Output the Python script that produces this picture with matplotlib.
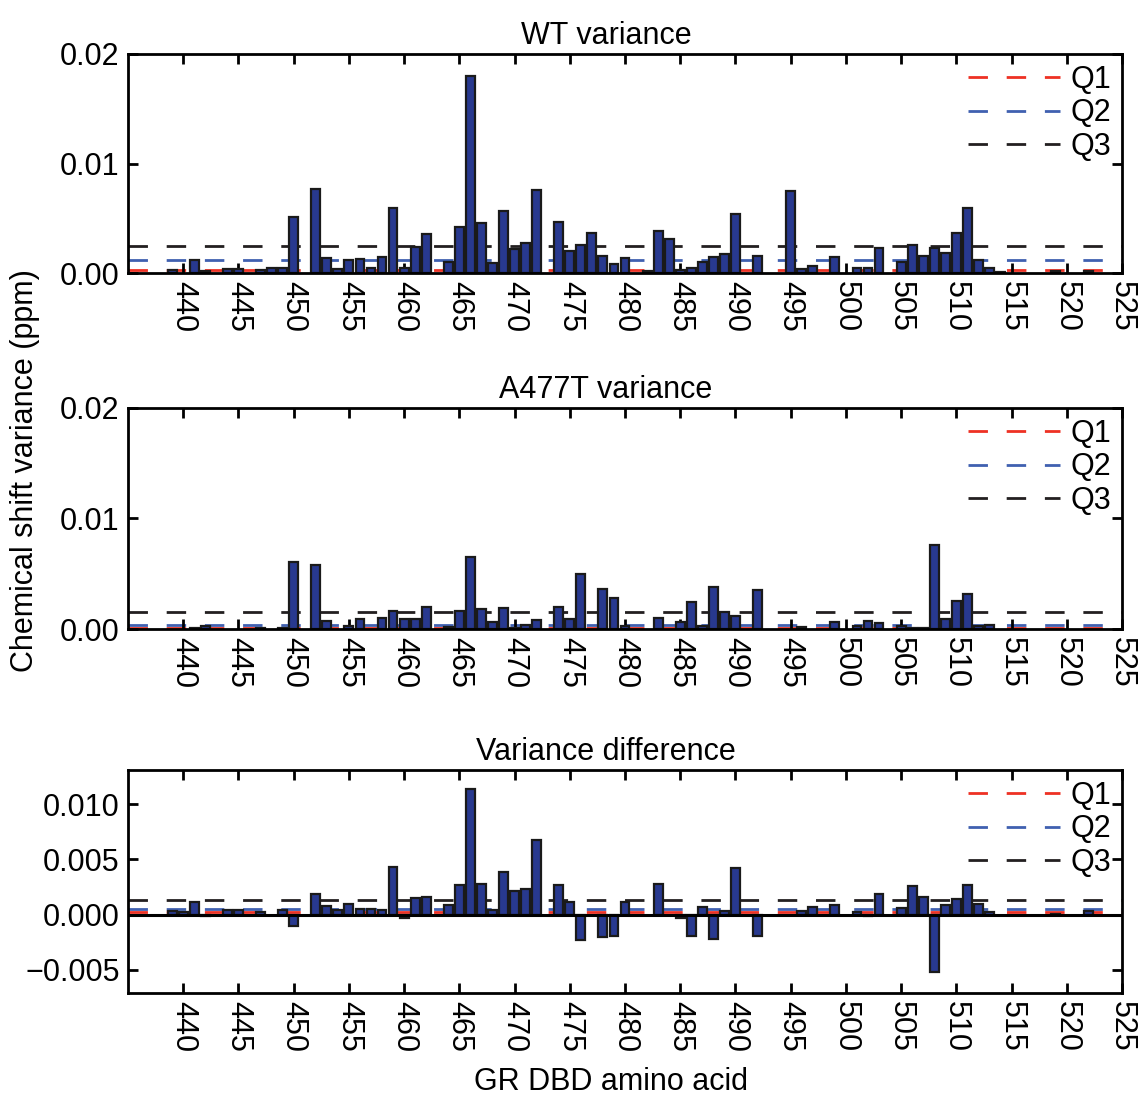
import matplotlib
matplotlib.use('Agg')
import matplotlib.pyplot as plt

plt.rcParams['font.family'] = ['Liberation Sans', 'DejaVu Sans']
plt.rcParams['lines.scale_dashes'] = False

# WT chemical shift variance per residue
wt_res = [439, 441, 442, 444, 445, 447, 448, 449, 450, 452, 453, 454, 455, 456, 457,
          458, 459, 460, 461, 462, 464, 465, 466, 467, 468, 469, 470, 471, 472, 474,
          475, 476, 477, 478, 479, 480, 482, 483, 484, 485, 486, 487, 488, 489, 490,
          492, 495, 496, 497, 499, 501, 502, 503, 505, 506, 507, 508, 509, 510, 511,
          512, 513, 514, 519, 522]
wt_var = [0.0003, 0.0012, 0.0002, 0.0004, 0.0004, 0.0003, 0.0005, 0.0005, 0.0051, 0.0077,
          0.0014, 0.0004, 0.0012, 0.0013, 0.0005, 0.0015, 0.0059, 0.0005, 0.0024, 0.0036,
          0.0010, 0.0042, 0.0180, 0.0046, 0.0009, 0.0057, 0.0022, 0.0027, 0.0076, 0.0047,
          0.0020, 0.0026, 0.0037, 0.0016, 0.0008, 0.0014, 0.0002, 0.0038, 0.0031, 0.0003,
          0.0005, 0.0010, 0.0015, 0.0017, 0.0054, 0.0016, 0.0075, 0.0004, 0.0006, 0.0015,
          0.0005, 0.0005, 0.0023, 0.0010, 0.0026, 0.0016, 0.0023, 0.0018, 0.0037, 0.0059,
          0.0012, 0.0005, 0.0001, 0.0002, 0.0002]

# A477T chemical shift variance per residue
mut_res = [441, 442, 447, 449, 450, 452, 453, 455, 456, 458, 459, 460, 461, 462, 464,
           465, 466, 467, 468, 469, 470, 471, 472, 474, 475, 476, 478, 479, 480, 483,
           485, 486, 487, 488, 489, 490, 492, 496, 499, 501, 502, 503, 505, 506, 507,
           508, 509, 510, 511, 512, 513]
mut_var = [0.0001, 0.0003, 0.0001, 0.0001, 0.0061, 0.0058, 0.0007, 0.0003, 0.0009, 0.0010,
           0.0016, 0.0009, 0.0009, 0.0020, 0.0002, 0.0016, 0.0065, 0.0018, 0.0006, 0.0019,
           0.0001, 0.0004, 0.0008, 0.0020, 0.0009, 0.0050, 0.0036, 0.0028, 0.0003, 0.0010,
           0.0006, 0.0024, 0.0003, 0.0038, 0.0015, 0.0012, 0.0035, 0.0002, 0.0006, 0.0003,
           0.0007, 0.0005, 0.0003, 0.0001, 0.0001, 0.0076, 0.0009, 0.0025, 0.0032, 0.0003,
           0.0004]

# variance difference per residue
diff_res = [439, 440, 441, 442, 444, 445, 447, 449, 450, 452, 453, 454, 455, 456, 457,
            458, 459, 460, 461, 462, 464, 465, 466, 467, 468, 469, 470, 471, 472, 474,
            475, 476, 478, 479, 480, 483, 485, 486, 487, 488, 489, 490, 492, 496, 497,
            499, 501, 502, 503, 505, 506, 507, 508, 509, 510, 511, 512, 513, 519, 522]
diff_var = [0.0003, 0.0002, 0.0011, -0.0001, 0.0004, 0.0004, 0.0002, 0.00045, -0.0010, 0.0019,
            0.00075, 0.00045, 0.0010, 0.0005, 0.0005, 0.00045, 0.0043, -0.00035, 0.0015, 0.0016,
            0.00085, 0.0027, 0.0114, 0.0028, 0.0004, 0.0039, 0.0021, 0.0023, 0.0068, 0.0027,
            0.0011, -0.0023, -0.0020, -0.0019, 0.0011, 0.0028, -0.00035, -0.0019, 0.0007, -0.0022,
            0.0003, 0.0042, -0.0019, 0.0003, 0.0007, 0.0009, 0.00025, -0.0001, 0.0019, 0.0006,
            0.0026, 0.0016, -0.0052, 0.0009, 0.0014, 0.0027, 0.0010, 0.0002, 0.0001, 0.0003]

# quartiles (Q1, Q2, Q3) for each panel
wt_q = [0.00025, 0.0012, 0.0025]
mut_q = [0.0001, 0.00037, 0.0015]
diff_q = [0.00024, 0.00048, 0.00135]

q_labels = ['Q1', 'Q2', 'Q3']
q_colors = ['#EE3124', '#4060B0', '#231F20']
bar_color = '#28398F'

xticks = [440, 445, 450, 455, 460, 465, 470, 475, 480, 485, 490, 495, 500, 505,
          510, 515, 520, 525]

fs = 22

fig = plt.figure(figsize=(11.4, 10.97), dpi=100)
left, width = 0.1123, 0.8719
ax1 = fig.add_axes([left, 0.7511, width, 0.1997])
ax2 = fig.add_axes([left, 0.4266, width, 0.2015])
ax3 = fig.add_axes([left, 0.0948, width, 0.2033])

panels = [
    (ax1, wt_res, wt_var, wt_q, 'WT variance', (0, 0.02), [0, 0.01, 0.02], '%.2f'),
    (ax2, mut_res, mut_var, mut_q, 'A477T variance', (0, 0.02), [0, 0.01, 0.02], '%.2f'),
    (ax3, diff_res, diff_var, diff_q, 'Variance difference', (-0.0071, 0.0131),
     [-0.005, 0, 0.005, 0.010], '%.3f'),
]

for ax, res, var, q, title, ylim, yticks, fmt in panels:
    for val, lab, col in zip(q, q_labels, q_colors):
        ax.axhline(val, color=col, lw=2, dashes=(14, 13.5), label=lab, zorder=1)
    ax.bar(res, var, width=0.8, color=bar_color, edgecolor='#1a1a1a', linewidth=1.6,
           zorder=2)
    if ylim[0] < 0:
        ax.axhline(0, color='black', lw=2.2, zorder=3)
    ax.set_xlim(435, 525)
    ax.set_ylim(*ylim)
    ax.set_xticks(xticks)
    ax.set_xticklabels([str(t) for t in xticks], rotation=-90, fontsize=fs)
    ax.set_yticks(yticks)
    ax.set_yticklabels([(fmt % t).replace('-', '\u2212') for t in yticks], fontsize=fs)
    ax.tick_params(direction='in', length=7, width=2, top=True, right=True, pad=6)
    for s in ax.spines.values():
        s.set_linewidth(2)
    ax.set_title(title, fontsize=fs, pad=7, x=0.481)
    ax.legend(loc='upper right', frameon=False, fontsize=fs, handlelength=3.0,
              handletextpad=0.35, labelspacing=0.12, borderaxespad=0.2, borderpad=0.15)

fig.text(0.022, 0.571, 'Chemical shift variance (ppm)', rotation=90, fontsize=fs,
         ha='center', va='center')
fig.text(0.536, 0.014, 'GR DBD amino acid', fontsize=fs, ha='center', va='center')

fig.savefig('out.png', dpi=100)
